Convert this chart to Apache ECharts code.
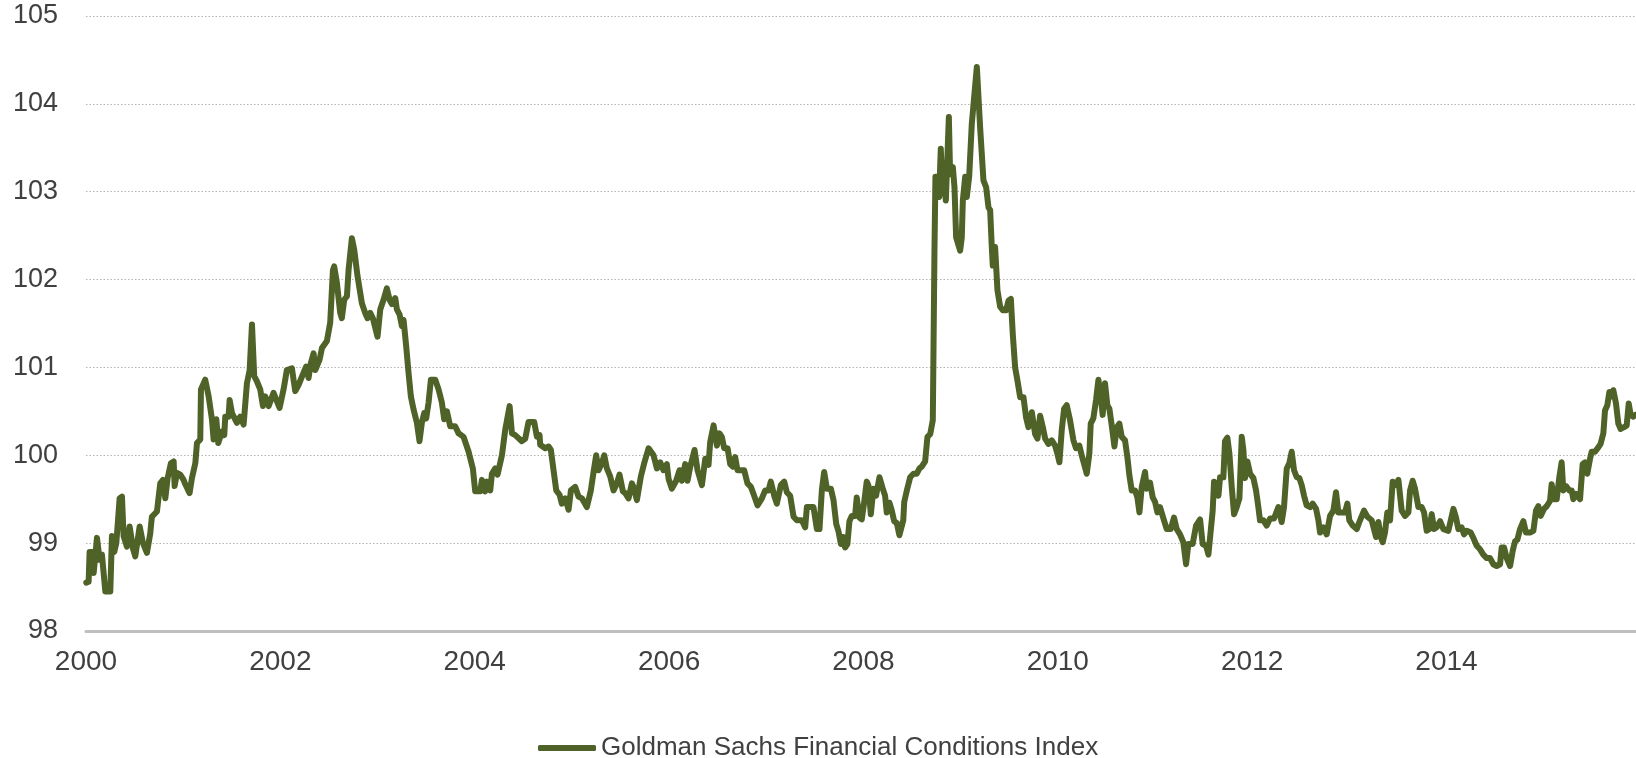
<!DOCTYPE html>
<html>
<head>
<meta charset="utf-8">
<script src="https://cdn.jsdelivr.net/npm/echarts@6/dist/echarts.min.js"></script>
<style>
html,body{margin:0;padding:0;background:#fff;}
#chart{width:1636px;height:758px;}
</style>
</head>
<body>
<div id="chart"></div>
<script>
// Dates as decimal years (weekly index)
const dateYears = [
2000.003,2000.027,2000.037,2000.072,2000.079,2000.113,2000.140,2000.164,2000.199,2000.250,
2000.267,2000.291,2000.312,2000.346,2000.370,2000.387,2000.421,2000.449,2000.483,2000.507,
2000.552,2000.586,2000.627,2000.661,2000.678,2000.730,2000.764,2000.792,2000.816,2000.840,
2000.874,2000.902,2000.912,2000.936,2000.970,2001.004,2001.022,2001.066,2001.090,2001.125,
2001.142,2001.176,2001.183,2001.227,2001.262,2001.296,2001.313,2001.341,2001.361,2001.399,
2001.423,2001.433,2001.467,2001.478,2001.502,2001.553,2001.587,2001.622,2001.656,2001.684,
2001.708,2001.731,2001.759,2001.793,2001.821,2001.845,2001.879,
2001.930,2001.992,2002.033,2002.067,2002.119,2002.153,2002.187,2002.239,2002.266,2002.290,
2002.314,2002.342,2002.359,2002.404,2002.428,2002.479,2002.513,2002.541,2002.554,2002.582,
2002.616,2002.633,2002.657,2002.685,2002.702,2002.736,2002.760,2002.794,2002.839,2002.873,
2002.897,2002.925,2002.952,2003.000,2003.028,2003.062,2003.096,2003.124,2003.148,2003.182,
2003.199,2003.227,2003.251,2003.268,2003.295,2003.319,2003.343,2003.371,2003.405,2003.432,
2003.456,2003.480,2003.501,2003.525,2003.549,2003.594,2003.628,2003.662,2003.686,2003.714,
2003.748,2003.799,2003.834,
2003.885,2003.937,2003.981,2004.005,2004.057,2004.074,2004.108,2004.125,2004.160,2004.177,
2004.211,2004.235,2004.280,2004.314,2004.359,2004.383,2004.417,2004.485,2004.520,2004.554,
2004.612,2004.640,2004.667,2004.674,2004.725,2004.760,2004.784,2004.811,2004.839,2004.873,
2004.897,2004.931,2004.966,2004.990,2005.034,2005.068,2005.103,2005.154,2005.195,2005.223,
2005.250,2005.274,2005.308,2005.333,2005.360,2005.394,2005.429,2005.463,2005.490,2005.525,
2005.549,2005.583,2005.617,2005.634,2005.669,2005.710,2005.744,2005.789,
2005.840,2005.875,2005.909,2005.943,2005.977,2005.995,2006.029,2006.073,2006.108,2006.132,
2006.166,2006.190,2006.218,2006.262,2006.293,2006.338,2006.372,2006.406,2006.423,2006.458,
2006.492,2006.519,2006.543,2006.567,2006.602,2006.629,2006.656,2006.680,2006.704,2006.773,
2006.807,2006.842,2006.869,2006.910,2006.955,2006.989,2007.023,2007.047,2007.082,2007.109,
2007.150,2007.185,2007.212,2007.246,2007.281,2007.315,2007.366,2007.401,2007.418,2007.486,
2007.521,2007.548,2007.572,2007.596,2007.624,2007.665,2007.692,2007.720,2007.744,2007.768,
2007.790,
2007.811,2007.835,2007.856,2007.880,2007.914,2007.931,2007.959,2007.983,2008.007,2008.034,
2008.051,2008.076,2008.103,2008.130,2008.165,2008.199,2008.223,2008.240,2008.268,2008.292,
2008.316,2008.343,2008.370,
2008.410,2008.420,2008.447,2008.481,2008.515,2008.549,2008.577,2008.600,2008.635,2008.659,
2008.687,2008.714,2008.721,2008.731,2008.741,2008.762,2008.779,2008.796,2008.813,2008.831,
2008.848,2008.879,2008.892,2008.920,2008.937,2008.954,2008.971,2008.995,2009.012,2009.023,
2009.047,2009.064,2009.088,2009.115,2009.167,2009.201,2009.235,2009.263,2009.287,2009.304,
2009.321,2009.331,2009.355,2009.379,2009.407,2009.434,2009.469,2009.493,2009.517,2009.537,
2009.561,2009.585,2009.613,2009.647,2009.674,2009.698,2009.733,2009.767,2009.791,2009.818,
2009.846,2009.870,2009.904,
2009.938,2009.972,2009.996,2010.017,2010.041,2010.065,2010.092,2010.126,2010.161,2010.188,
2010.222,2010.246,2010.298,2010.325,2010.339,2010.366,2010.394,2010.418,2010.442,2010.462,
2010.486,2010.510,2010.531,2010.555,2010.583,2010.607,2010.634,2010.658,2010.692,2010.716,
2010.737,2010.761,2010.795,2010.819,2010.840,2010.864,2010.898,2010.915,2010.949,2010.977,
2011.001,2011.025,2011.052,2011.093,2011.121,2011.162,2011.196,2011.224,2011.258,2011.292,
2011.320,2011.344,2011.388,2011.423,2011.464,2011.491,2011.526,2011.550,
2011.594,2011.608,2011.636,2011.653,2011.670,2011.704,2011.721,2011.745,2011.766,2011.790,
2011.814,2011.841,2011.869,2011.893,2011.910,2011.927,2011.951,2011.979,2012.013,2012.040,
2012.064,2012.081,2012.116,2012.150,2012.184,2012.225,2012.270,2012.304,2012.328,2012.356,
2012.383,2012.407,2012.431,2012.459,2012.486,2012.510,2012.534,2012.561,2012.596,2012.623,
2012.658,2012.682,2012.699,2012.733,2012.767,2012.802,2012.836,2012.863,2012.887,2012.956,
2012.980,2013.000,2013.035,2013.076,2013.110,2013.151,2013.186,2013.230,2013.247,2013.275,
2013.299,2013.323,2013.343,2013.367,2013.391,2013.419,2013.446,2013.474,2013.505,
2013.539,2013.573,2013.608,2013.625,2013.652,2013.676,2013.711,2013.745,2013.769,2013.796,
2013.824,2013.848,2013.872,2013.899,2013.934,2013.968,2014.019,2014.071,2014.098,2014.122,
2014.156,2014.180,2014.208,2014.249,2014.276,2014.311,2014.345,2014.379,2014.414,2014.448,
2014.482,2014.516,2014.551,2014.568,2014.592,2014.619,2014.654,2014.681,2014.705,2014.729,
2014.757,2014.791,2014.818,2014.859,2014.894,2014.921,2014.945,2014.969,2015.003,2015.031,
2015.065,2015.082,2015.106,2015.134,2015.161,2015.185,2015.202,2015.230,2015.264,2015.288,
2015.305,2015.333,2015.374,2015.401,2015.425,2015.449,2015.477,2015.494,2015.528,2015.562,
2015.586,2015.614,2015.631,2015.655,2015.676,2015.700,2015.717,2015.744,2015.768,2015.792,
2015.827,2015.854,2015.875,2015.895,2015.923,2015.943
];

// Goldman Sachs Financial Conditions Index values
const fciValues = [
98.55,98.56,98.90,98.90,98.66,99.06,98.81,98.87,98.45,98.45,
99.08,98.90,99.00,99.51,99.53,99.08,98.96,99.19,98.94,98.85,
99.19,99.00,98.89,99.11,99.30,99.36,99.68,99.72,99.51,99.74,
99.91,99.93,99.65,99.80,99.78,99.72,99.67,99.57,99.74,99.91,
100.14,100.18,100.75,100.86,100.67,100.41,100.18,100.41,100.14,100.27,
100.23,100.44,100.44,100.63,100.48,100.37,100.44,100.35,100.82,100.97,
101.49,100.90,100.84,100.75,100.56,100.67,100.56,
100.71,100.54,100.75,100.97,100.99,100.73,100.80,100.94,101.01,100.88,
101.05,101.16,100.97,101.09,101.22,101.30,101.51,102.11,102.15,101.96,
101.62,101.56,101.77,101.81,102.11,102.47,102.34,102.04,101.73,101.62,
101.56,101.62,101.56,101.35,101.66,101.77,101.90,101.77,101.72,101.79,
101.66,101.60,101.47,101.54,101.24,100.94,100.67,100.52,100.37,100.16,
100.37,100.48,100.42,100.60,100.86,100.86,100.75,100.60,100.41,100.50,
100.33,100.33,100.25,
100.21,100.04,99.85,99.59,99.59,99.72,99.59,99.70,99.60,99.79,
99.85,99.78,100.00,100.29,100.56,100.25,100.23,100.16,100.19,100.38,
100.38,100.21,100.23,100.12,100.08,100.10,100.06,99.83,99.60,99.55,
99.45,99.51,99.38,99.60,99.64,99.53,99.51,99.41,99.60,99.81,
100.00,99.83,99.91,100.00,99.85,99.76,99.60,99.68,99.78,99.59,
99.57,99.51,99.68,99.64,99.49,99.76,99.91,100.08,
100.00,99.85,99.92,99.83,99.90,99.73,99.62,99.71,99.83,99.71,
99.90,99.71,99.87,100.06,99.83,99.66,99.96,99.89,100.15,100.34,
100.11,100.25,100.21,100.08,100.08,99.90,99.87,99.98,99.83,99.83,
99.68,99.64,99.56,99.43,99.51,99.60,99.60,99.70,99.54,99.45,
99.66,99.70,99.58,99.54,99.30,99.26,99.26,99.18,99.41,99.41,
99.16,99.16,99.60,99.81,99.62,99.62,99.49,99.22,99.13,98.99,
99.07,
98.95,98.99,99.25,99.31,99.31,99.52,99.29,99.27,99.46,99.70,
99.66,99.33,99.62,99.54,99.75,99.62,99.54,99.35,99.46,99.37,
99.25,99.23,99.09,
99.26,99.47,99.60,99.75,99.79,99.79,99.85,99.87,99.93,100.21,
100.24,100.40,101.19,102.33,103.17,103.17,102.94,103.49,102.98,103.09,
102.90,103.85,103.20,103.28,103.05,102.48,102.48,102.33,102.48,102.90,
103.17,102.94,103.17,103.77,104.42,103.73,103.13,103.05,102.82,102.79,
102.37,102.16,102.37,101.88,101.69,101.65,101.65,101.76,101.78,101.38,
101.00,100.85,100.66,100.66,100.43,100.32,100.49,100.24,100.19,100.45,
100.32,100.19,100.13,
100.17,100.11,100.02,99.92,100.29,100.53,100.57,100.40,100.17,100.08,
100.11,100.00,99.79,100.02,100.36,100.42,100.63,100.86,100.67,100.46,
100.82,100.57,100.53,100.34,100.10,100.32,100.36,100.21,100.17,99.98,
99.77,99.60,99.60,99.52,99.35,99.64,99.81,99.62,99.69,99.52,
99.47,99.35,99.41,99.26,99.16,99.16,99.29,99.16,99.10,99.01,
98.76,98.99,98.99,99.20,99.27,98.99,98.97,98.87,
99.37,99.70,99.66,99.54,99.75,99.75,100.16,100.20,100.02,99.64,
99.33,99.41,99.51,100.21,100.06,99.74,99.93,99.79,99.74,99.60,
99.41,99.26,99.26,99.20,99.28,99.28,99.41,99.24,99.41,99.85,
99.91,100.04,99.83,99.75,99.74,99.66,99.54,99.43,99.41,99.45,
99.39,99.26,99.12,99.18,99.10,99.31,99.37,99.58,99.35,99.35,
99.45,99.26,99.20,99.16,99.26,99.37,99.30,99.26,99.24,99.07,
99.24,99.07,99.01,99.12,99.35,99.26,99.70,99.66,99.72,
99.37,99.31,99.35,99.60,99.71,99.62,99.41,99.41,99.35,99.14,
99.16,99.33,99.16,99.18,99.25,99.16,99.14,99.39,99.29,99.16,
99.18,99.10,99.14,99.12,99.06,98.97,98.93,98.87,98.83,98.83,
98.76,98.74,98.76,98.95,98.95,98.83,98.74,98.91,99.02,99.04,
99.16,99.25,99.12,99.12,99.14,99.37,99.42,99.31,99.39,99.42,
99.48,99.67,99.50,99.50,99.75,99.92,99.60,99.65,99.60,99.60,
99.50,99.56,99.50,99.90,99.92,99.79,99.96,100.04,100.04,100.09,
100.13,100.25,100.51,100.57,100.72,100.67,100.74,100.59,100.36,100.30,
100.32,100.34,100.59,100.46,100.44,100.46
];

const seriesName = 'Goldman Sachs Financial Conditions Index';
const xTickLabels = ['2000','2002','2004','2006','2008','2010','2012','2014'];

const chart = echarts.init(document.getElementById('chart'), null, {renderer: 'canvas'});
const lineColor = '#4f6228';
const textColor = '#404040';
const fontFam = 'Liberation Sans, Arial, sans-serif';

chart.setOption({
  animation: false,
  backgroundColor: '#ffffff',
  grid: { left: 86, right: 0, top: 16, bottom: 127, containLabel: false },
  legend: {
    data: [seriesName],
    left: 533,
    top: 730,
    icon: 'roundRect',
    itemWidth: 58,
    itemHeight: 6,
    itemStyle: { color: lineColor },
    textStyle: { fontFamily: fontFam, fontSize: 26, color: textColor }
  },
  xAxis: {
    type: 'value',
    min: 2000,
    max: 2015.95,
    interval: 2,
    axisLine: { show: true, lineStyle: { color: '#bfbfbf', width: 3 } },
    axisTick: { show: false },
    splitLine: { show: false },
    axisLabel: {
      showMaxLabel: false,
      margin: 17,
      fontSize: 28,
      fontFamily: fontFam,
      color: textColor,
      formatter: function (v) {
        const s = String(Math.round(v));
        return (Math.abs(v - Math.round(v)) < 1e-6 && xTickLabels.indexOf(s) >= 0) ? s : '';
      }
    }
  },
  yAxis: {
    type: 'value',
    min: 98,
    max: 105,
    interval: 1,
    axisLine: { show: false },
    axisTick: { show: false },
    splitLine: { show: true, lineStyle: { color: '#b3b3b3', width: 1, type: [1.5, 2] } },
    axisLabel: {
      margin: 28,
      fontSize: 27,
      fontFamily: fontFam,
      color: textColor
    }
  },
  series: [{
    name: seriesName,
    type: 'line',
    data: dateYears.map((d, i) => [d, fciValues[i]]),
    showSymbol: false,
    symbol: 'none',
    smooth: false,
    lineStyle: { color: lineColor, width: 6, cap: 'round', join: 'round' },
    itemStyle: { color: lineColor },
    z: 3
  }]
});
</script>
</body>
</html>
